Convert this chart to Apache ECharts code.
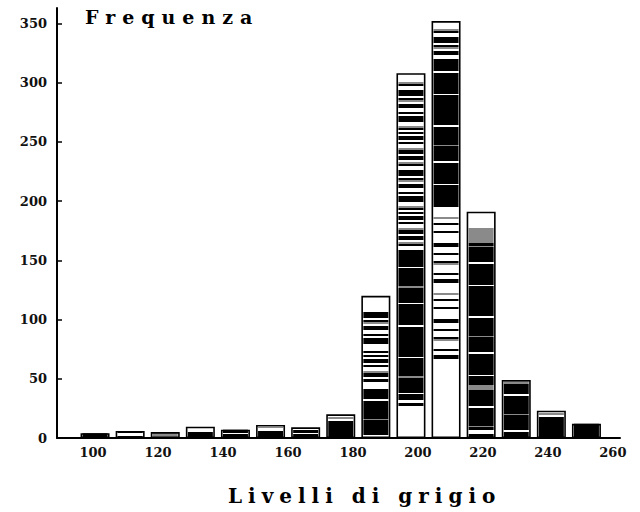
<!DOCTYPE html>
<html><head><meta charset="utf-8">
<script src="https://cdn.jsdelivr.net/npm/echarts@6/dist/echarts.min.js"></script>
<style>
html,body{margin:0;padding:0;background:#fff}
#c{width:640px;height:512px}
#c text[style*="19px"]{letter-spacing:7px}
#c text[style*="20px"]{letter-spacing:6px}
</style></head><body><div id="c"></div>
<script>
// ---- data ----
const binLabels = ['100','110','120','130','140','150','160','170','180','190','200','210','220','230','240'];
const frequencies = [4, 6, 5, 9.5, 7, 11, 9, 20, 120, 308, 352, 191, 49, 23, 12];
const xTickLabels = [100, 120, 140, 160, 180, 200, 220, 240, 260];
const yTickLabels = [0, 50, 100, 150, 200, 250, 300, 350];
const yTitle = 'Frequenza';
const xTitle = 'Livelli di grigio';

// ---- styles (stripe texture of each bar, px from the bar top) ----
const barTextures = [
  [[0,99,'b']],
  [[0,2,'b'],[2,5,'w'],[5,99,'b']],
  [[0,99,'g']],
  [[0,5,'w'],[5,99,'b']],
  [[0,3,'b'],[3,4.5,'w'],[4.5,99,'b']],
  [[0,2,'w'],[2,3.5,'g'],[3.5,6,'w'],[6,99,'b']],
  [[0,3,'w'],[3,6,'b'],[6,7,'w'],[7,99,'b']],
  [[0,3,'w'],[3,5,'g'],[5,7,'w'],[7,99,'b']],
  [[0,14,'w'],[14,48,'s'],[48,55,'w'],[55,86,'s'],[86,93,'w'],[93,999,'d']],
  [[0,7,'w'],[7,183,'s'],[183,327,'d'],[327,330,'w'],[330,333,'b'],[333,999,'w']],
  [[0,6,'w'],[6,38,'s'],[38,182,'d'],[182,342,'l'],[342,999,'w']],
  [[0,16,'w'],[16,31,'g'],[31,173,'d'],[173,178,'g'],[178,218,'d'],[218,222,'w'],[222,999,'b']],
  [[0,4,'g'],[4,999,'d']],
  [[0,2,'w'],[2,4,'g'],[4,6,'w'],[6,999,'b']],
  [[0,999,'b']]
];
const COLORS = {w:'#ffffff', b:'#000000', g:'#8a8a8a'};
const PATTERNS = {
  s: {u:2,   p:'wbbwgbwwbbbwbgwbbwwbwbbbwwgbwbwbbwbwwgbb'},
  d: {u:1.5, p:'bbbbbbbbbwbbbbbbbbbbbbgbbbbbbbbbbwbbbbbbbbbbbbbbwbbbbbbbbbbb'},
  l: {u:2,   p:'wwbwwwbgwwwwbwwbbwwwwwgwwbwwwbwwwwwbbw'}
};
const Y_MAX = 363;
const PLOT_H = 430;

function buildFill(value, segs) {
  const h = value * PLOT_H / Y_MAX;
  const stops = [];
  function add(a, b, c) {
    a = Math.min(a, h); b = Math.min(b, h);
    if (b <= a) return;
    const last = stops[stops.length - 1];
    if (last && last.color === c && Math.abs(last.offset - a / h) < 1e-9) { last.offset = b / h; return; }
    stops.push({offset: a / h, color: c}, {offset: b / h, color: c});
  }
  segs.forEach(([a, b, k]) => {
    if (COLORS[k]) { add(a, b, COLORS[k]); return; }
    const pat = PATTERNS[k];
    let pos = a, idx = Math.floor(a / pat.u);
    while (pos < b && pos < h) {
      const nxt = Math.min(b, pos + pat.u);
      add(pos, nxt, COLORS[pat.p[idx % pat.p.length]]);
      pos = nxt; idx++;
    }
  });
  return {type:'linear', x:0, y:0, x2:0, y2:1, colorStops: stops};
}

const fillData = frequencies.map((v, i) => ({value: v, itemStyle: {color: buildFill(v, barTextures[i])}}));

const FONT = 'DejaVu Serif';
const chart = echarts.init(document.getElementById('c'), null, {renderer:'svg'});
chart.setOption({
  animation: false,
  backgroundColor: '#fff',
  title: [
    {text: yTitle, left: 80, top: 2, textStyle: {fontFamily: FONT, fontSize: 19, fontWeight: 'bold', color: '#000'}},
    {text: xTitle, left: 223, top: 481, textStyle: {fontFamily: FONT, fontSize: 20, fontWeight: 'bold', color: '#000'}}
  ],
  grid: [
    {left: 57, right: 20, top: 8, bottom: 74},
    {left: 77.5, width: 526.5, top: 8, bottom: 74}
  ],
  xAxis: [
    {gridIndex: 0, type: 'value', min: 88.9, max: 262.2, splitLine: {show: false},
     axisLine: {show: true, onZero: false, lineStyle: {color: '#000', width: 2}},
     axisTick: {show: false},
     axisLabel: {customValues: xTickLabels, margin: 8, fontFamily: FONT, fontSize: 13, fontWeight: 'bold', color: '#111'}},
    {gridIndex: 1, type: 'category', data: binLabels, show: false},
    {gridIndex: 1, type: 'category', data: binLabels, show: false}
  ],
  yAxis: [
    {gridIndex: 0, type: 'value', min: 0, max: Y_MAX, splitLine: {show: false},
     axisLine: {show: true, lineStyle: {color: '#000', width: 2}},
     axisTick: {show: true, inside: true, length: 5, customValues: yTickLabels, lineStyle: {color: '#000', width: 1.5}},
     axisLabel: {customValues: yTickLabels, margin: 10, fontFamily: FONT, fontSize: 13, fontWeight: 'bold', color: '#111'}},
    {gridIndex: 1, type: 'value', min: 0, max: Y_MAX, show: false}
  ],
  series: [
    {type: 'bar', xAxisIndex: 1, yAxisIndex: 1, barWidth: 25, data: fillData, z: 2},
    {type: 'bar', xAxisIndex: 2, yAxisIndex: 1, barWidth: 29, data: frequencies, z: 3,
     itemStyle: {color: 'rgba(0,0,0,0)', borderColor: '#000', borderWidth: 1.6}}
  ]
});
</script></body></html>
